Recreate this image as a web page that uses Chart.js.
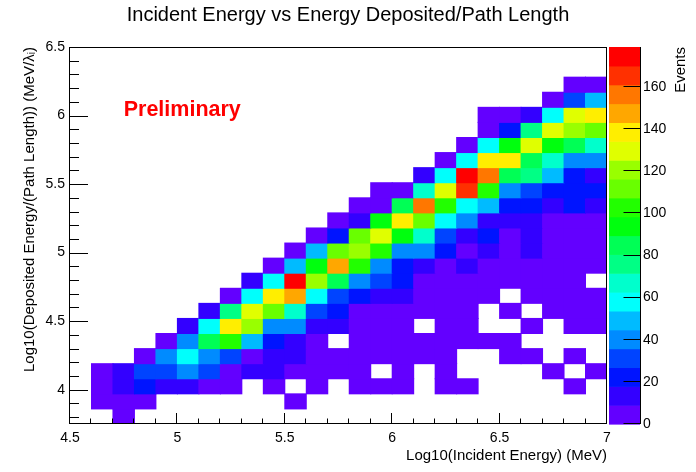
<!DOCTYPE html>
<html>
<head>
<meta charset="utf-8">
<title>Incident Energy vs Energy Deposited/Path Length</title>
<style>
  html, body { margin: 0; padding: 0; background: #fff; }
  #wrap { width: 696px; height: 472px; }
</style>
<script src="https://cdn.jsdelivr.net/npm/chart.js@4.4.1/dist/chart.umd.min.js"></script>
</head>
<body>
<div id="wrap"><canvas id="hist" width="696" height="472"></canvas></div>
<script>
// binning of the 2D histogram
const xLow = 4.5, xHigh = 7.0, nBinsX = 25;
const yLow = 3.75, yHigh = 6.5, nBinsY = 25;

// axis labels
const xLabels = [4.5, 5, 5.5, 6, 6.5, 7];
const yLabels = [4, 4.5, 5, 5.5, 6, 6.5];
const zLabels = [0, 20, 40, 60, 80, 100, 120, 140, 160];

// bin contents (events), top row first; columns go left to right in x
const counts = [
  [0,0,0,0,0, 0,0,0,0,0, 0,0,0,0,0, 0,0,0,0,0, 0,0,0,0,0],
  [0,0,0,0,0, 0,0,0,0,0, 0,0,0,0,0, 0,0,0,0,0, 0,0,0,0,0],
  [0,0,0,0,0, 0,0,0,0,0, 0,0,0,0,0, 0,0,0,0,0, 0,0,0,2,3],
  [0,0,0,0,0, 0,0,0,0,0, 0,0,0,0,0, 0,0,0,0,0, 0,0,3,31,49],
  [0,0,0,0,0, 0,0,0,0,0, 0,0,0,0,0, 0,0,0,0,2, 4,13,58,130,139],
  [0,0,0,0,0, 0,0,0,0,0, 0,0,0,0,0, 0,0,0,0,5, 22,76,130,121,112],
  [0,0,0,0,0, 0,0,0,0,0, 0,0,0,0,0, 0,0,0,4,58, 94,130,94,85,67],
  [0,0,0,0,0, 0,0,0,0,0, 0,0,0,0,0, 0,0,3,58,139, 139,85,67,40,40],
  [0,0,0,0,0, 0,0,0,0,0, 0,0,0,0,0, 0,13,58,179,157, 85,76,49,22,13],
  [0,0,0,0,0, 0,0,0,0,0, 0,0,0,0,4, 6,67,130,166,103, 40,31,22,22,22],
  [0,0,0,0,0, 0,0,0,0,0, 0,0,0,3,5, 85,157,103,58,49, 22,22,13,22,13],
  [0,0,0,0,0, 0,0,0,0,0, 0,0,4,13,94, 139,112,58,40,13, 13,13,6,5,4],
  [0,0,0,0,0, 0,0,0,0,0, 0,3,22,112,130, 94,67,31,13,22, 7,13,6,5,4],
  [0,0,0,0,0, 0,0,0,0,0, 4,49,112,121,103, 40,40,22,7,13, 6,13,5,4,5],
  [0,0,0,0,0, 0,0,0,0,3, 49,94,148,103,40, 22,13,7,13,6, 5,4,5,3,4],
  [0,0,0,0,0, 0,0,0,13,58, 175,121,85,40,31, 22,6,5,4,4, 3,4,3,2,0],
  [0,0,0,0,0, 0,0,5,58,139, 148,58,31,22,13, 13,5,4,3,2, 0,3,2,3,2],
  [0,0,0,0,0, 0,13,76,130,112, 67,31,22,6,4, 3,4,2,3,0, 2,0,2,3,2],
  [0,0,0,0,0, 13,58,139,121,40, 40,13,13,5,3, 2,0,2,1,0, 0,2,0,1,2],
  [0,0,0,0,6, 40,85,103,49,22, 13,7,0,4,3, 3,2,2,1,2, 1,0,0,0,0],
  [0,0,0,5,40, 58,40,31,7,13, 13,6,4,3,2, 2,1,1,0,0, 1,1,0,1,0],
  [0,6,13,31,31, 40,31,8,13,13, 5,4,3,2,0, 1,0,1,0,0, 0,0,1,0,1],
  [0,7,13,22,13, 13,7,5,0,2, 0,2,0,1,1, 1,0,1,1,0, 0,0,0,1,0],
  [0,5,6,4,0, 0,0,0,0,0, 1,0,0,0,0, 0,0,0,0,0, 0,0,0,0,0],
  [0,0,2,0,0, 0,0,0,0,0, 0,0,0,0,0, 0,0,0,0,0, 0,0,0,0,0]
];

// ROOT "pretty" palette, 20 contour levels (violet -> red)
const palette = ['#6300ff','#3300ff','#0014ff','#0044ff','#008bff','#00bbff','#00fffc',
  '#00ffcc','#00ff85','#00ff55','#00ff0e','#22ff00','#69ff00','#99ff00','#e0ff00',
  '#ffee00','#ffa700','#ff7700','#ff3000','#ff0000'];

const zMax = Math.max(...counts.flat());
const xBin = (xHigh - xLow) / nBinsX;
const yBin = (yHigh - yLow) / nBinsY;

function colorFor(v) {
  let k = Math.floor(v / zMax * palette.length);
  if (k >= palette.length) k = palette.length - 1;
  return palette[k];
}

Chart.defaults.font.family = "'Liberation Sans', Arial, Helvetica, sans-serif";
Chart.defaults.color = '#000';

// one floating-bar dataset per row of bins
const datasets = [];
counts.forEach(function (row, r) {
  const j = nBinsY - 1 - r;
  const pts = [];
  row.forEach(function (v, i) {
    if (v > 0) {
      pts.push({ x: xLow + (i + 0.5) * xBin, y: [yLow + j * yBin, yLow + (j + 1) * yBin], v: v });
    }
  });
  if (pts.length) {
    datasets.push({
      data: pts,
      xAxisID: 'x',
      yAxisID: 'y',
      backgroundColor: ctx => (ctx.raw ? colorFor(ctx.raw.v) : '#fff')
    });
  }
});

const fmt = v => String(v);

const rootAxes = {
  id: 'rootAxes',
  afterDatasetsDraw(chart) {
    const ctx = chart.ctx;
    const a = chart.chartArea;
    const xs = chart.scales.x, ys = chart.scales.y, zs = chart.scales.z;
    ctx.save();
    ctx.strokeStyle = '#000';
    ctx.lineWidth = 1;

    // frame
    ctx.strokeRect(a.left - 0.5, a.top + 0.5, a.right - a.left, a.bottom - a.top - 1);

    // x ticks (inside, major every 0.5, minor every 0.1)
    ctx.beginPath();
    for (let n = 0; n <= nBinsX; n++) {
      const v = xLow + n * 0.1;
      const px = Math.round(xs.getPixelForValue(v)) - 0.5;
      const major = Math.abs(v * 2 - Math.round(v * 2)) < 1e-6;
      ctx.moveTo(px, a.bottom);
      ctx.lineTo(px, a.bottom - (major ? 11 : 5.5));
    }
    // y ticks
    for (let n = 38; n <= 65; n++) {
      const v = n / 10;
      const py = Math.round(ys.getPixelForValue(v)) + 0.5;
      const major = n % 5 === 0;
      ctx.moveTo(a.left, py);
      ctx.lineTo(a.left + (major ? 18 : 9), py);
    }
    ctx.stroke();

    // colour palette box
    const bx = a.right + 2, bw = 31;
    for (let k = 0; k < palette.length; k++) {
      const y0 = zs.getPixelForValue(k * zMax / palette.length);
      const y1 = zs.getPixelForValue((k + 1) * zMax / palette.length);
      ctx.fillStyle = palette[k];
      ctx.fillRect(bx, y1, bw, y0 - y1 + 0.6);
    }
    const axX = bx + bw + 0.5;
    ctx.beginPath();
    ctx.moveTo(axX, zs.top);
    ctx.lineTo(axX, zs.bottom);
    zLabels.forEach(function (v) {
      const py = Math.round(zs.getPixelForValue(v)) - 0.5;
      ctx.moveTo(axX, py);
      ctx.lineTo(axX - 17, py);
    });
    ctx.stroke();

    // palette title
    ctx.fillStyle = '#000';
    ctx.font = "15px 'Liberation Sans', Arial, sans-serif";
    ctx.translate(680.5, zs.top);
    ctx.rotate(-Math.PI / 2);
    ctx.textAlign = 'right';
    ctx.textBaseline = 'middle';
    ctx.fillText('Events', 0, 0);
    ctx.restore();

    // label
    ctx.save();
    ctx.fillStyle = '#ff0000';
    ctx.font = "bold 21.5px 'Liberation Sans', Arial, sans-serif";
    ctx.textAlign = 'left';
    ctx.textBaseline = 'alphabetic';
    ctx.fillText('Preliminary', xs.getPixelForValue(4.75), ys.getPixelForValue(6.0));
    ctx.restore();
  }
};

new Chart(document.getElementById('hist'), {
  type: 'bar',
  data: { datasets: datasets },
  options: {
    responsive: false,
    animation: false,
    events: [],
    layout: { padding: 0 },
    datasets: {
      bar: {
        grouped: false,
        barPercentage: 1,
        categoryPercentage: 1,
        borderWidth: 0,
        inflateAmount: 0.5
      }
    },
    plugins: {
      legend: { display: false },
      tooltip: { enabled: false },
      title: {
        display: true,
        text: 'Incident Energy vs Energy Deposited/Path Length',
        font: { size: 20, weight: 'normal' },
        color: '#000',
        padding: { top: 3, bottom: 20 }
      }
    },
    scales: {
      x: {
        type: 'linear',
        min: xLow,
        max: xHigh,
        offset: false,
        grid: { display: false, drawTicks: false },
        border: { display: false },
        afterBuildTicks: s => { s.ticks = xLabels.map(v => ({ value: v })); },
        ticks: { font: { size: 14 }, padding: 6, maxRotation: 0, autoSkip: false, callback: fmt },
        title: {
          display: true,
          text: 'Log10(Incident Energy) (MeV)',
          align: 'end',
          font: { size: 15 },
          padding: { top: 0, bottom: 7 }
        },
        afterFit: s => { s.height = 48; }
      },
      y: {
        type: 'linear',
        min: yLow,
        max: yHigh,
        grid: { display: false, drawTicks: false },
        border: { display: false },
        afterBuildTicks: s => { s.ticks = yLabels.map(v => ({ value: v })); },
        ticks: { font: { size: 14 }, padding: 5, autoSkip: false, callback: fmt },
        title: {
          display: true,
          text: 'Log10(Deposited Energy/(Path Length)) (MeV/\u03bb\u1d62)',
          align: 'end',
          font: { size: 15 },
          padding: { top: 21, bottom: 0 }
        },
        afterFit: s => { s.width = 70; }
      },
      z: {
        type: 'linear',
        position: 'right',
        min: 0,
        max: zMax,
        grid: { display: false, drawTicks: false },
        border: { display: false },
        afterBuildTicks: s => { s.ticks = zLabels.map(v => ({ value: v })); },
        ticks: { font: { size: 14 }, padding: 36, autoSkip: false, callback: fmt },
        afterFit: s => { s.width = 89; }
      }
    }
  },
  plugins: [rootAxes]
});
</script>
</body>
</html>
